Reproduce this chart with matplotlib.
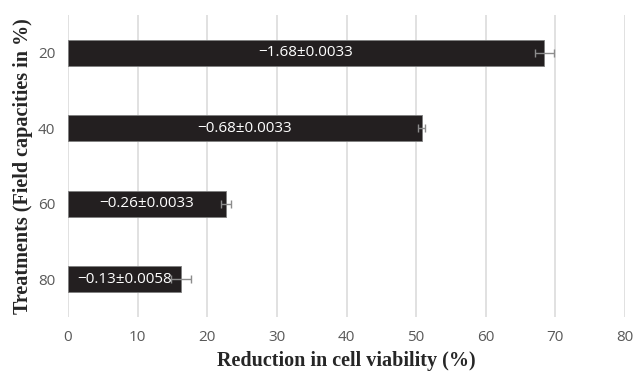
import matplotlib.pyplot as plt
import numpy as np

treatments = ['20', '40', '60', '80']
reduction = [68.4, 50.8, 22.7, 16.2]
errors = [1.4, 0.5, 0.7, 1.4]
labels = ['\u22121.68\u00b10.0033', '\u22120.68\u00b10.0033',
          '\u22120.26\u00b10.0033', '\u22120.13\u00b10.0058']

fig = plt.figure(figsize=(6.33, 3.73), dpi=100)
ax = fig.add_axes([0.1074, 0.150, 0.880, 0.810])

y = np.arange(len(treatments))
bars = ax.barh(y, reduction, height=0.34, color='#231f20', edgecolor='#7f7f7f',
               linewidth=0.6, xerr=errors,
               error_kw=dict(ecolor='#8c8c8c', elinewidth=1, capsize=3, capthick=1),
               zorder=3)

for bar, txt in zip(bars, labels):
    ax.text(bar.get_width() / 2, bar.get_y() + bar.get_height() / 2, txt,
            ha='center', va='center', color='white', fontsize=11,
            family='Open Sans', zorder=4)

ax.set_xlim(0, 80)
ax.set_ylim(3.5, -0.5)
ax.set_xticks(np.arange(0, 81, 10))
ax.set_yticks(y)
ax.set_yticklabels(treatments)
ax.grid(axis='x', color='#dcdcdc', linewidth=1.2, zorder=0)
for s in ax.spines.values():
    s.set_visible(False)
ax.tick_params(length=0, labelsize=11, labelcolor='#595959', pad=9)
for lbl in ax.get_xticklabels() + ax.get_yticklabels():
    lbl.set_family('Open Sans')

ax.set_xlabel('Reduction in cell viability (%)', family='Liberation Serif',
              fontweight='bold', fontsize=14.5, color='#262626', labelpad=5)
ax.set_ylabel('Treatments (Field capacities in %)', family='Liberation Serif',
              fontweight='bold', fontsize=14.5, color='#262626', labelpad=4)

fig.savefig('out.png', dpi=100)
